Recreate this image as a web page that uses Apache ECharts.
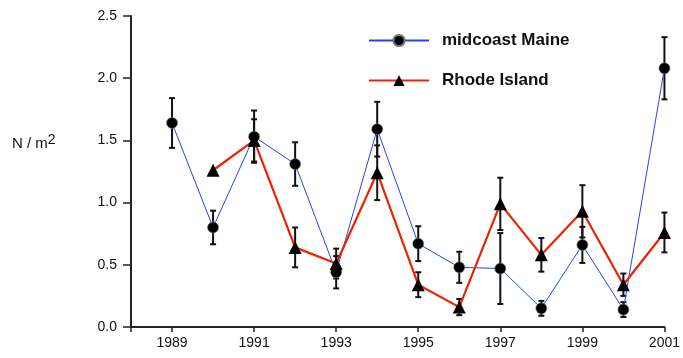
<!DOCTYPE html>
<html>
<head>
<meta charset="utf-8">
<script src="https://cdn.jsdelivr.net/npm/echarts@6/dist/echarts.min.js"></script>
<style>
  html, body { margin: 0; padding: 0; background: #fff; }
  #chart { width: 683px; height: 358px; }
</style>
</head>
<body>
<div id="chart"></div>
<script>
// data
var maineYears = [1989, 1990, 1991, 1992, 1993, 1994, 1995, 1996, 1997, 1998, 1999, 2000, 2001];
var maineVals  = [1.64, 0.80, 1.53, 1.31, 0.44, 1.59, 0.67, 0.48, 0.47, 0.15, 0.66, 0.14, 2.08];
var maineErr   = [0.20, 0.135, 0.21, 0.175, 0.13, 0.22, 0.14, 0.125, 0.285, 0.06, 0.145, 0.06, 0.25];

var rhodeYears = [1990, 1991, 1992, 1993, 1994, 1995, 1996, 1997, 1998, 1999, 2000, 2001];
var rhodeVals  = [1.26, 1.50, 0.64, 0.51, 1.24, 0.34, 0.16, 0.99, 0.58, 0.93, 0.34, 0.76];
var rhodeErr   = [0, 0.17, 0.16, 0.12, 0.22, 0.10, 0.065, 0.21, 0.135, 0.21, 0.09, 0.16];

var xTickYears  = [1988, 1989, 1991, 1993, 1995, 1997, 1999, 2001];
var xLabelYears = [1989, 1991, 1993, 1995, 1997, 1999, 2001];

var fontName = 'Liberation Sans, Arial, Helvetica, sans-serif';

function pairs(xs, ys) {
  return xs.map(function (x, i) { return [x, ys[i]]; });
}
function errData(xs, ys, es) {
  var out = [];
  xs.forEach(function (x, i) {
    if (es[i] > 0) out.push([x, ys[i] - es[i], ys[i] + es[i]]);
  });
  return out;
}

// error bar with caps
function renderErr(params, api) {
  var lo = api.coord([api.value(0), api.value(1)]);
  var hi = api.coord([api.value(0), api.value(2)]);
  var cap = 3;
  var st = { stroke: '#111', lineWidth: 2 };
  return {
    type: 'group',
    children: [
      { type: 'line', shape: { x1: lo[0], y1: lo[1], x2: hi[0], y2: hi[1] }, style: st },
      { type: 'line', shape: { x1: lo[0] - cap, y1: lo[1], x2: lo[0] + cap, y2: lo[1] }, style: st },
      { type: 'line', shape: { x1: hi[0] - cap, y1: hi[1], x2: hi[0] + cap, y2: hi[1] }, style: st }
    ]
  };
}

var chart = echarts.init(document.getElementById('chart'));
var option = {
  backgroundColor: '#fff',
  animation: false,
  grid: { left: 131, right: 17, top: 16, bottom: 31, containLabel: false },
  legend: {
    orient: 'vertical',
    left: 363,
    top: 27,
    itemWidth: 60,
    itemHeight: 14,
    itemGap: 23,
    data: ['midcoast Maine', 'Rhode Island'],
    textStyle: { fontFamily: fontName, fontSize: 17, fontWeight: 'bold', color: '#111', padding: [0, 0, 0, 8] }
  },
  graphic: [{
    type: 'text',
    left: 12,
    top: 133,
    style: {
      text: 'N / m{sup|2}',
      font: '15px ' + fontName,
      fill: '#111',
      rich: { sup: { fontSize: 14, verticalAlign: 'top', padding: [0, 0, 7, 0], fontFamily: fontName } }
    }
  }],
  xAxis: {
    type: 'value',
    min: 1988,
    max: 2001,
    splitLine: { show: false },
    axisLine: { lineStyle: { color: '#222', width: 2 } },
    axisTick: { show: true, length: 5, lineStyle: { color: '#222', width: 1.5 }, customValues: xTickYears },
    axisLabel: {
      customValues: xLabelYears, color: '#111', fontSize: 14, fontFamily: fontName, margin: 9,
      formatter: function (v) { return String(v); }
    }
  },
  yAxis: {
    type: 'value',
    min: 0,
    max: 2.5,
    interval: 0.5,
    splitLine: { show: false },
    axisLine: { show: true, lineStyle: { color: '#222', width: 2 } },
    axisTick: { show: true, length: 8, lineStyle: { color: '#222', width: 1.5 } },
    axisLabel: {
      color: '#111', fontSize: 14, fontFamily: fontName, margin: 14,
      formatter: function (v) { return v.toFixed(1); }
    }
  },
  series: [
    {
      name: 'midcoast Maine',
      type: 'line',
      data: pairs(maineYears, maineVals),
      symbol: 'circle',
      symbolSize: 11,
      itemStyle: { color: '#000', borderColor: '#777', borderWidth: 0.6 },
      lineStyle: { color: '#2244ee', width: 1 },
      z: 3
    },
    {
      name: 'Rhode Island',
      type: 'line',
      data: pairs(rhodeYears, rhodeVals),
      symbol: 'triangle',
      symbolSize: 13,
      itemStyle: { color: '#000' },
      lineStyle: { color: '#ee2200', width: 2.2 },
      z: 4
    },
    {
      type: 'custom',
      renderItem: renderErr,
      data: errData(maineYears, maineVals, maineErr),
      encode: { x: 0, y: [1, 2] },
      z: 2
    },
    {
      type: 'custom',
      renderItem: renderErr,
      data: errData(rhodeYears, rhodeVals, rhodeErr),
      encode: { x: 0, y: [1, 2] },
      z: 2
    }
  ]
};
chart.setOption(option);
</script>
</body>
</html>
